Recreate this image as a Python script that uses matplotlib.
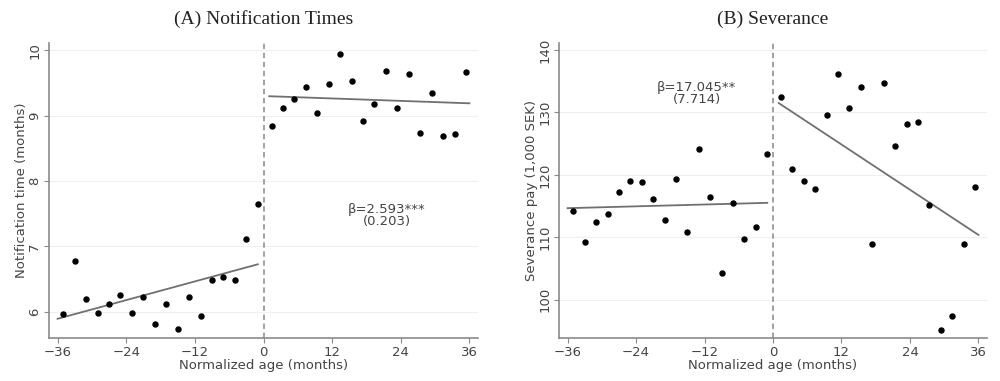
import numpy as np
import matplotlib.pyplot as plt

# bin centres (normalized age, months)
age_left = [-35, -33, -31, -29, -27, -25, -23, -21, -19, -17, -15, -13, -11, -9, -7, -5, -3, -1]
age_right = [1.4, 3.4, 5.4, 7.4, 9.4, 11.4, 13.4, 15.4, 17.4, 19.4, 21.4, 23.4, 25.4, 27.4,
             29.4, 31.4, 33.4, 35.4]

# (A) notification times
notif_left = [5.97, 6.78, 6.19, 5.98, 6.12, 6.25, 5.98, 6.22, 5.81, 6.12, 5.73, 6.23,
              5.94, 6.48, 6.53, 6.48, 7.12, 7.65]
notif_right = [8.84, 9.12, 9.26, 9.44, 9.04, 9.48, 9.94, 9.53, 8.92, 9.18, 9.68, 9.12,
               9.64, 8.74, 9.35, 8.69, 8.72, 9.67]
notif_fit = [(6.75, 0.0238), (9.30, -0.0031)]  # (intercept, slope) left / right

# (B) severance pay
sev_left = [114.2, 109.2, 112.4, 113.8, 117.3, 119.0, 118.8, 116.2, 112.7, 119.4, 110.9,
            124.2, 116.5, 104.3, 115.5, 109.8, 111.6, 123.3]
sev_right = [132.5, 120.9, 119.1, 117.8, 129.6, 136.1, 130.7, 134.1, 109.0, 134.7, 124.7,
             128.1, 128.5, 115.1, 95.2, 97.4, 109.0, 118.0]
sev_fit = [(115.55, 0.0244), (132.1, -0.603)]

panels = [
    dict(title="(A) Notification Times", ylabel="Notification time (months)",
         left=notif_left, right=notif_right, fit=notif_fit,
         ylim=(5.6, 10.11), yticks=[6, 7, 8, 9, 10],
         note="β=2.593***\n(0.203)", note_xy=(21.6, 7.48)),
    dict(title="(B) Severance", ylabel="Severance pay (1,000 SEK)",
         left=sev_left, right=sev_right, fit=sev_fit,
         ylim=(93.9, 141.1), yticks=[100, 110, 120, 130, 140],
         note="β=17.045**\n(7.714)", note_xy=(-13.4, 133.1)),
]

fig = plt.figure(figsize=(10, 3.81), dpi=100)
axes = [fig.add_axes([0.049, 0.113, 0.429, 0.774]),
        fig.add_axes([0.559, 0.113, 0.428, 0.774])]

axis_col = "#8a8a8a"
text_col = "#444444"

for ax, p in zip(axes, panels):
    ax.set_xlim(-37.5, 37.5)
    ax.set_ylim(*p["ylim"])
    ax.set_yticks(p["yticks"])
    ax.set_xticks([-36, -24, -12, 0, 12, 24, 36])
    ax.grid(axis="y", color="#efefef", linewidth=0.8)
    ax.set_axisbelow(True)
    for s in ["top", "right"]:
        ax.spines[s].set_visible(False)
    for s in ["left", "bottom"]:
        ax.spines[s].set_color(axis_col)
        ax.spines[s].set_linewidth(1.2)
    ax.tick_params(colors=axis_col, labelcolor=text_col, labelsize=9.5, length=3.5)
    ax.tick_params(axis="y", labelrotation=90, pad=2)
    ax.tick_params(axis="x", pad=2)
    for lab in ax.get_yticklabels():
        lab.set_va("center")

    ax.axvline(0, color="#9a9a9a", linestyle=(0, (3, 2)), linewidth=1.3)

    xl = np.array([-36, -1])
    xr = np.array([1, 36])
    (a0, b0), (a1, b1) = p["fit"]
    ax.plot(xl, a0 + b0 * xl, color="#707070", linewidth=1.3)
    ax.plot(xr, a1 + b1 * xr, color="#707070", linewidth=1.3)

    ax.scatter(age_left, p["left"], s=13, color="black", zorder=3)
    ax.scatter(age_right, p["right"], s=13, color="black", zorder=3)

    ax.text(p["note_xy"][0], p["note_xy"][1], p["note"], ha="center", va="center",
            fontsize=9.5, color=text_col, linespacing=0.9)

    ax.set_xlabel("Normalized age (months)", fontsize=9.5, color=text_col, labelpad=0)
    ax.set_ylabel(p["ylabel"], fontsize=9.5, color=text_col, labelpad=0)
    ax.set_title(p["title"], family="Liberation Serif", fontsize=14, color="#222222",
                 pad=14)

fig.savefig("out.png", dpi=100)
